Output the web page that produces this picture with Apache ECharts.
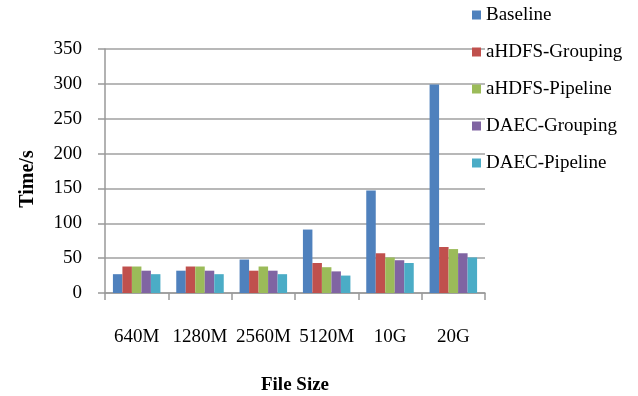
<!DOCTYPE html>
<html><head><meta charset="utf-8">
<script src="https://cdn.jsdelivr.net/npm/echarts@6/dist/echarts.min.js"></script>
<style>html,body{margin:0;padding:0;background:#fff}#c{width:638px;height:396px}</style>
</head><body><div id="c"></div>
<script>
const categories = ['640M','1280M','2560M','5120M','10G','20G'];
const seriesNames = ['Baseline','aHDFS-Grouping','aHDFS-Pipeline','DAEC-Grouping','DAEC-Pipeline'];
const baseline = [27, 32, 48, 91, 147, 299];
const ahdfsGrouping = [38, 38, 32, 43, 57, 66];
const ahdfsPipeline = [38, 38, 38, 37, 51, 63];
const daecGrouping = [32, 32, 32, 31, 47, 57];
const daecPipeline = [27, 27, 27, 25, 43, 51];
const yTicks = [0, 50, 100, 150, 200, 250, 300, 350];
const colors = ['#4F81BD','#C0504D','#9BBB59','#8064A2','#4BACC6'];
const values = [baseline, ahdfsGrouping, ahdfsPipeline, daecGrouping, daecPipeline];
const font = '"Liberation Serif","Times New Roman",serif';

const chart = echarts.init(document.getElementById('c'), null, {renderer:'canvas'});
chart.setOption({
  animation: false,
  color: colors,
  textStyle: {fontFamily: font},
  grid: {left: 105, right: 153, top: 49, bottom: 103, containLabel: false, outerBoundsMode: 'none'},
  legend: {
    orient: 'vertical', left: 472, top: 5, padding: 0,
    itemWidth: 9, itemHeight: 9, itemGap: 17,
    icon: 'rect',
    textStyle: {fontFamily: font, fontSize: 19, color: '#000', lineHeight: 20},
    data: seriesNames
  },
  xAxis: {
    type: 'category', data: categories,
    name: 'File Size', nameLocation: 'middle', nameGap: 83,
    nameTextStyle: {fontFamily: font, fontSize: 19, fontWeight: 'bold', color: '#000'},
    axisLine: {lineStyle: {color: '#999', width: 1.5}},
    axisTick: {show: true, length: 7, lineStyle: {color: '#999', width: 1.5}},
    axisLabel: {fontFamily: font, fontSize: 19, color: '#000', margin: 35, interval: 0}
  },
  yAxis: {
    type: 'value', min: yTicks[0], max: yTicks[yTicks.length-1], interval: 50,
    name: 'Time/s', nameLocation: 'middle', nameGap: 67, nameRotate: 90,
    nameTextStyle: {fontFamily: font, fontSize: 20, fontWeight: 'bold', color: '#000', padding: [0,16,0,0]},
    axisLine: {show: true, lineStyle: {color: '#999', width: 1.5}},
    axisTick: {show: true, length: 7, lineStyle: {color: '#999', width: 1.5}},
    axisLabel: {fontFamily: font, fontSize: 19, color: '#000', margin: 23},
    splitLine: {lineStyle: {color: '#a0a0a0', width: 1.5}}
  },
  series: seriesNames.map((n, i) => ({
    name: n, type: 'bar', data: values[i],
    barGap: '0%', barCategoryGap: '25%',
    itemStyle: {color: colors[i]}
  }))
});
</script></body></html>
